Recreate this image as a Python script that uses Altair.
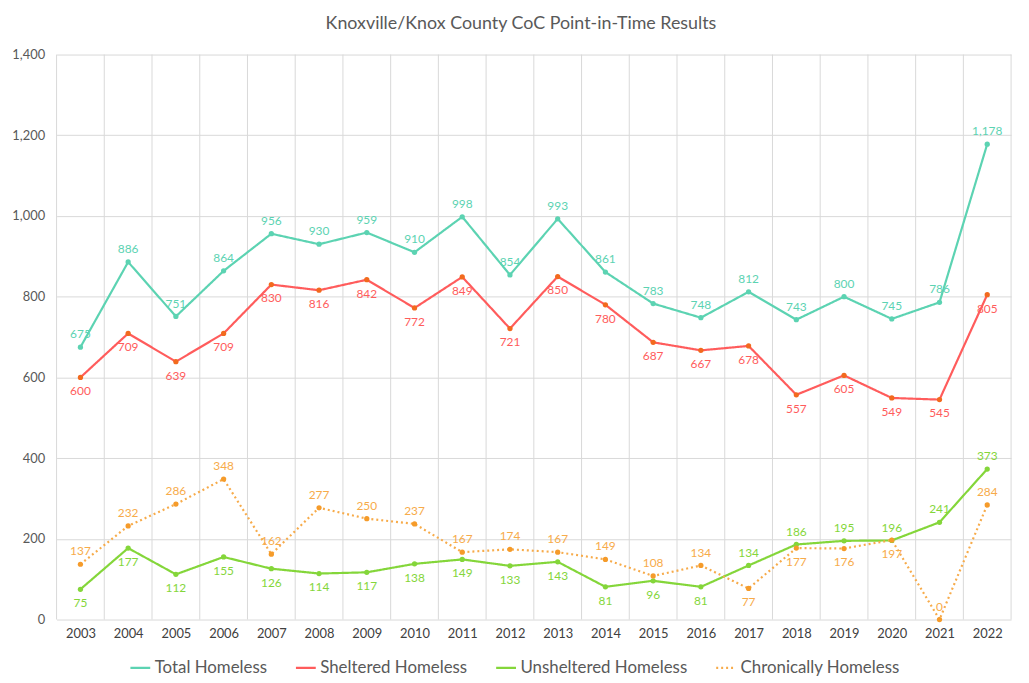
import altair as alt
import pandas as pd

years = list(range(2003, 2023))
total = [675, 886, 751, 864, 956, 930, 959, 910, 998, 854, 993, 861, 783, 748, 812, 743, 800, 745, 786, 1178]
sheltered = [600, 709, 639, 709, 830, 816, 842, 772, 849, 721, 850, 780, 687, 667, 678, 557, 605, 549, 545, 805]
unsheltered = [75, 177, 112, 155, 126, 114, 117, 138, 149, 133, 143, 81, 96, 81, 134, 186, 195, 196, 241, 373]
chronic = [137, 232, 286, 348, 162, 277, 250, 237, 167, 174, 167, 149, 108, 134, 77, 177, 176, 197, 0, 284]
y_ticks = [0, 200, 400, 600, 800, 1000, 1200, 1400]

series_names = ["Total Homeless", "Sheltered Homeless", "Unsheltered Homeless", "Chronically Homeless"]
line_colors = ["#5cd3b2", "#ff5c5c", "#84d63a", "#f7ab4a"]
marker_colors = ["#5cd3b2", "#f26a1e", "#84d63a", "#f59b2a"]

# label placement per point (above / below)
total_pos = ["above"] * 20
sheltered_pos = ["below"] * 20
unsheltered_pos = ["below"] * 14 + ["above"] * 6
chronic_pos = ["above"] * 14 + ["below"] * 4 + ["above"] * 2

rows = []
for name, vals, pos in zip(series_names, [total, sheltered, unsheltered, chronic],
                           [total_pos, sheltered_pos, unsheltered_pos, chronic_pos]):
    for y, v, p in zip(years, vals, pos):
        rows.append({"year": y, "series": name, "value": v, "pos": p})
df = pd.DataFrame(rows)

bounds = pd.DataFrame({"year": [y - 0.5 for y in years] + [years[-1] + 0.5]})

FONT = "Lato"
xscale = alt.Scale(domain=[years[0] - 0.5, years[-1] + 0.5], nice=False, zero=False)
yscale = alt.Scale(domain=[0, 1400], nice=False)

x_axis = alt.Axis(values=years, format="d", title=None, grid=False, ticks=False,
                  domain=False, labelFontSize=13, labelColor="#404040",
                  labelPadding=8, labelFont=FONT)
y_axis = alt.Axis(values=y_ticks, format=",.0f", title=None,
                  grid=True, gridColor="#d9d9d9", ticks=False, domain=False,
                  labelFontSize=13, labelColor="#595959", labelPadding=12,
                  labelFont=FONT)

color_enc = alt.Color("series:N", scale=alt.Scale(domain=series_names, range=line_colors),
                      sort=series_names,
                      legend=alt.Legend(title=None, orient="none", direction="horizontal",
                                        legendX=73, legendY=607, symbolType="stroke",
                                        symbolSize=400, symbolStrokeWidth=2,
                                        labelFontSize=17, labelColor="#595959", labelFont=FONT,
                                        labelLimit=0, columnPadding=24, labelOffset=3))

vgrid = alt.Chart(bounds).mark_rule(color="#d9d9d9", strokeWidth=1).encode(
    x=alt.X("year:Q", scale=xscale, axis=x_axis)
)

lines = alt.Chart(df).mark_line(strokeWidth=2.2).encode(
    x=alt.X("year:Q", scale=xscale, axis=x_axis),
    y=alt.Y("value:Q", scale=yscale, axis=y_axis),
    color=color_enc,
    strokeDash=alt.StrokeDash("series:N",
                              scale=alt.Scale(domain=series_names,
                                              range=[[1, 0], [1, 0], [1, 0], [2, 3]]),
                              sort=series_names, legend=None),
    strokeWidth=alt.StrokeWidth("series:N",
                                scale=alt.Scale(domain=series_names, range=[2.2, 2.2, 2.2, 1.6]),
                                legend=None),
    order="year:Q",
)

points = alt.Chart(df).mark_point(filled=True, size=28, opacity=1, shape="circle").encode(
    x="year:Q", y="value:Q",
    fill=alt.Fill("series:N", scale=alt.Scale(domain=series_names, range=marker_colors), legend=None),
)

above = alt.Chart(df).transform_filter(alt.datum.pos == "above").mark_text(
    dy=-13, fontSize=12, font=FONT
).encode(x="year:Q", y="value:Q", text=alt.Text("value:Q", format=","),
         color=alt.Color("series:N", legend=None))

below = alt.Chart(df).transform_filter(alt.datum.pos == "below").mark_text(
    dy=14, fontSize=12, font=FONT
).encode(x="year:Q", y="value:Q", text=alt.Text("value:Q", format=","),
         color=alt.Color("series:N", legend=None))

chart = alt.layer(vgrid, lines, points, above, below).properties(
    width=963, height=570,
    autosize=alt.AutoSizeParams(type="none"),
    padding={"left": 49, "top": 44, "right": 10, "bottom": 55},
    title=alt.Title("Knoxville/Knox County CoC Point-in-Time Results", fontSize=18,
                    font=FONT, fontWeight="normal", color="#595959", offset=16, dx=-13),
).configure_view(stroke=None)

chart.save("out.html", embed_options={"renderer": "svg", "actions": False})
